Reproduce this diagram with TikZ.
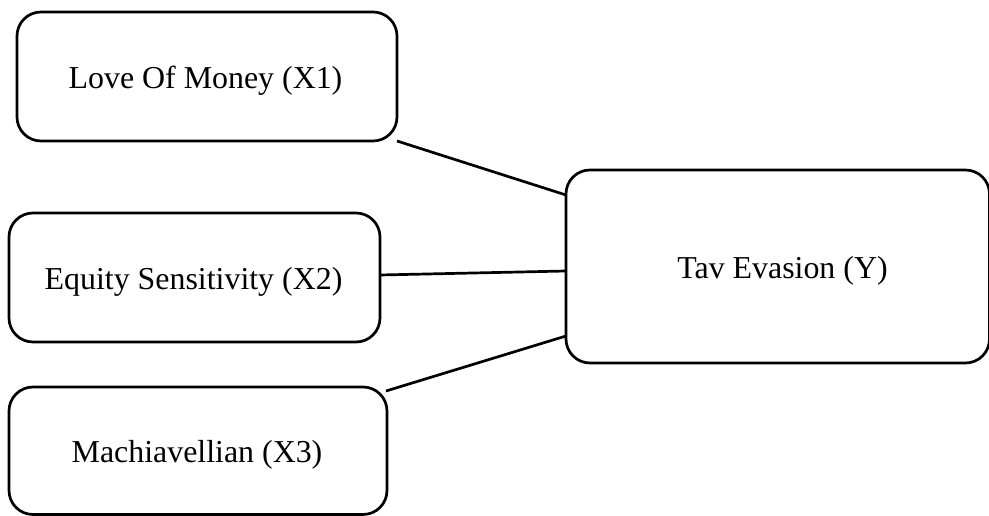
\documentclass[tikz,border=0pt]{standalone}
\usepackage{fontspec}
\setmainfont{Liberation Serif}
\begin{document}
\begin{tikzpicture}[x=1pt,y=-1pt,
  box/.style={draw=black, line width=2.7pt, rounded corners=24pt, fill=white, inner sep=0pt},
  conn/.style={draw=black, line width=2.7pt},
  lbl/.style={font=\fontsize{31.9}{37}\selectfont}]
\useasboundingbox (0,0) rectangle (989,516);
\fill[white] (0,0) rectangle (989,516);
\draw[box] (17,12) rectangle (397,141);
\node[lbl] (x1) at (205.5,81) {Love Of Money (X1)};
\draw[box] (9,213) rectangle (380,342);
\node[lbl] (x2) at (193.5,282) {Equity Sensitivity (X2)};
\draw[box] (9,387) rectangle (387,514.5);
\node[lbl] (x3) at (197,455) {Machiavellian (X3)};
\draw[box] (566,170) rectangle (989.5,363);
\node[lbl] (y) at (782.5,271) {Tav Evasion (Y)};
\coordinate (a1) at (397,141);
\coordinate (b1) at (566,195);
\coordinate (a2) at (380,275);
\coordinate (b2) at (566,271);
\coordinate (a3) at (386,391);
\coordinate (b3) at (566,336);
\draw[conn] (a1) -- (b1);
\draw[conn] (a2) -- (b2);
\draw[conn] (a3) -- (b3);
\end{tikzpicture}
\end{document}
